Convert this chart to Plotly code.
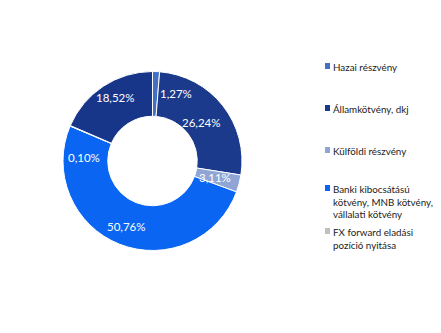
import math
import plotly.graph_objects as go

# ---- data ----
categories = ["Hazai részvény", "Államkötvény, dkj", "Külföldi részvény",
              "Banki kibocsátású kötvény, MNB kötvény, vállalati kötvény",
              "FX forward eladási pozíció nyitása", "Egyéb"]
values = [1.27, 26.24, 3.11, 50.76, 0.10, 18.52]
legend_labels = ["Hazai részvény", "Államkötvény, dkj", "Külföldi részvény",
                 "Banki kibocsátású<br>kötvény, MNB kötvény,<br>vállalati kötvény",
                 "FX forward eladási<br>pozíció nyitása"]

# ---- style ----
colors = ["#4470C4", "#1B3A8C", "#8FA5D6", "#0A66F2", "#BFBFBF", "#17368A"]
OFF = 8                      # page body margin
W, H = 441 - OFF, 333 - OFF
cx, cy, R = 152.5 - OFF, 161.0 - OFF, 89.5   # pixel centre / outer radius
hole = 0.5
label_nudge_deg = [17, 0, 0, 0, -20.5, 3]
label_r = [72, 62, 65, 70, 69, 74]
FONT = "Lato"

fig = go.Figure()
fig.add_trace(go.Pie(
    labels=categories, values=values, sort=False, direction="clockwise",
    rotation=0, hole=hole, textinfo="none", hoverinfo="label+percent",
    marker=dict(colors=colors, line=dict(color="white", width=1)),
    domain=dict(x=[(cx - R) / W, (cx + R) / W],
                y=[(H - cy - R) / H, (H - cy + R) / H]),
    showlegend=False,
))

total = sum(values)
cum = 0.0
for i, v in enumerate(values):
    mid = (cum + v / 2) / total * 360 + label_nudge_deg[i]
    cum += v
    a = math.radians(mid)
    px = cx + label_r[i] * math.sin(a)
    py = cy - label_r[i] * math.cos(a)
    fig.add_annotation(x=px / W, y=1 - py / H, xref="paper", yref="paper",
                       xanchor="center", yanchor="middle",
                       text=f"{v:.2f}%".replace(".", ","), showarrow=False,
                       font=dict(family=FONT, size=11.5, color="white"))

# manual legend
legend_tops = [66, 108, 150, 188, 231]
for i, lab in enumerate(legend_labels):
    ty = legend_tops[i] - OFF
    fig.add_shape(type="rect", xref="paper", yref="paper",
                  x0=(325 - OFF) / W, x1=(330 - OFF) / W,
                  y0=1 - (ty + 3) / H, y1=1 - (ty - 3) / H,
                  fillcolor=colors[i], line=dict(width=0))
    fig.add_annotation(x=(331 - OFF) / W, y=1 - (ty - 7) / H, xref="paper", yref="paper",
                       text=lab, showarrow=False, xanchor="left", yanchor="top",
                       align="left",
                       font=dict(family=FONT, size=9.8, color="#222222"))

fig.update_layout(width=W, height=H, margin=dict(l=0, r=0, t=0, b=0),
                  paper_bgcolor="white", plot_bgcolor="white")
fig.write_html("out.html")
